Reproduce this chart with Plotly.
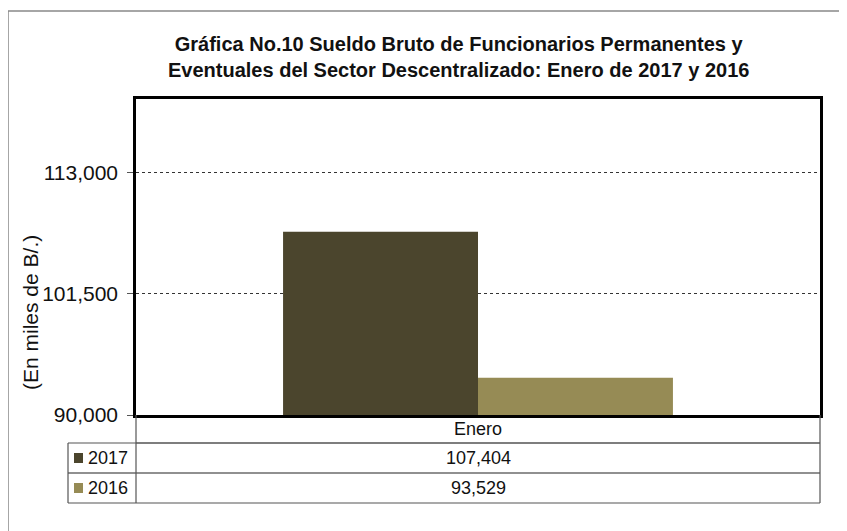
import plotly.graph_objects as go

categories = ["Enero"]
series_names = ["2017", "2016"]
values_2017 = [107404]
values_2016 = [93529]
colors = ["#4B452D", "#968B55"]
y_ticks = [90000, 101500, 113000]

# page body margin offset
OX, OY = 8, 8
W, H = 847 - OX, 531 - OY
L, R, T, B = 136, 820, 99, 415  # reference pixel coords of plot area


def px(x):
    return (x - L) / (R - L)


def py(y):
    return (B - y) / (B - T)


fig = go.Figure()
for name, vals, col in zip(series_names, [values_2017, values_2016], colors):
    fig.add_trace(go.Bar(x=categories, y=vals, name=name, marker=dict(color=col, line=dict(width=0)),
                         showlegend=False))

shapes = []
line_col = "#555555"


def hline(x0, x1, y, col=line_col, w=1.2):
    shapes.append(dict(type="line", xref="paper", yref="paper", x0=px(x0), x1=px(x1), y0=py(y), y1=py(y),
                       line=dict(color=col, width=w)))


def vline(x, y0, y1, col=line_col, w=1.2):
    shapes.append(dict(type="line", xref="paper", yref="paper", x0=px(x), x1=px(x), y0=py(y0), y1=py(y1),
                       line=dict(color=col, width=w)))


# outer frame
hline(8, 847, 11, "#888888", 1.5)
vline(8, 11, 531, "#888888", 1.5)
# data table
hline(136, 820, 443)
hline(68, 820, 443)
hline(68, 820, 473, "#222222")
hline(68, 820, 503)
vline(68, 443, 503)
vline(136, 415, 503)
vline(820, 415, 503)

FONT = "Liberation Sans, Arial"
annotations = []
annotations.append(dict(xref="paper", yref="paper", x=px(478), y=py(429), text=categories[0], showarrow=False,
                        font=dict(family=FONT, size=18, color="#111111"),
                        xanchor="center", yanchor="middle"))
rows_y = [458, 488]
for name, vals, col, ry in zip(series_names, [values_2017, values_2016], colors, rows_y):
    shapes.append(dict(type="rect", xref="paper", yref="paper", x0=px(74), x1=px(83), y0=py(ry - 5), y1=py(ry + 5),
                       fillcolor=col, line=dict(width=0)))
    annotations.append(dict(xref="paper", yref="paper", x=px(86), y=py(ry), text=name, showarrow=False,
                            font=dict(family=FONT, size=18, color="#111111"),
                            xanchor="left", yanchor="middle"))
    annotations.append(dict(xref="paper", yref="paper", x=px(478), y=py(ry), text=f"{vals[0]:,}", showarrow=False,
                            font=dict(family=FONT, size=18, color="#111111"),
                            xanchor="center", yanchor="middle"))

annotations.append(dict(xref="paper", yref="paper", x=px(458), y=py(57),
                        text="<b>Gráfica No.10 Sueldo Bruto de Funcionarios Permanentes y<br>"
                             "Eventuales del Sector Descentralizado: Enero de 2017 y 2016</b>",
                        showarrow=False, font=dict(family=FONT, size=20, color="#111111"),
                        xanchor="center", yanchor="middle", align="center"))
# y-axis title
annotations.append(dict(xref="paper", yref="paper", x=px(30), y=py(313), text="(En miles de B/.)",
                        showarrow=False, textangle=-90, font=dict(family=FONT, size=21, color="#111111"),
                        xanchor="center", yanchor="middle"))

fig.update_layout(
    width=W, height=H,
    margin=dict(l=L - OX, r=W - (R - OX), t=T - OY, b=H - (B - OY), pad=0),
    paper_bgcolor="white", plot_bgcolor="white",
    barmode="group", bargap=0.43, bargroupgap=0,
    shapes=shapes, annotations=annotations,
    font=dict(family=FONT, color="#111111"),
    xaxis=dict(showticklabels=False, ticks="", showgrid=False, showline=True, linecolor="black", linewidth=2.5,
               mirror=True, zeroline=False),
    yaxis=dict(range=[90000, 120000], tickvals=y_ticks, ticktext=[f"{v:,}" for v in y_ticks],
               tickfont=dict(size=21, family=FONT, color="#111111"),
               ticks="outside", ticklen=6, tickcolor="#555555", ticklabelstandoff=5,
               showgrid=True, gridcolor="#333333",
               griddash="dot", gridwidth=0.8, showline=True, linecolor="black", linewidth=2.5, mirror=True,
               zeroline=False),
)

fig.write_html("out.html")
